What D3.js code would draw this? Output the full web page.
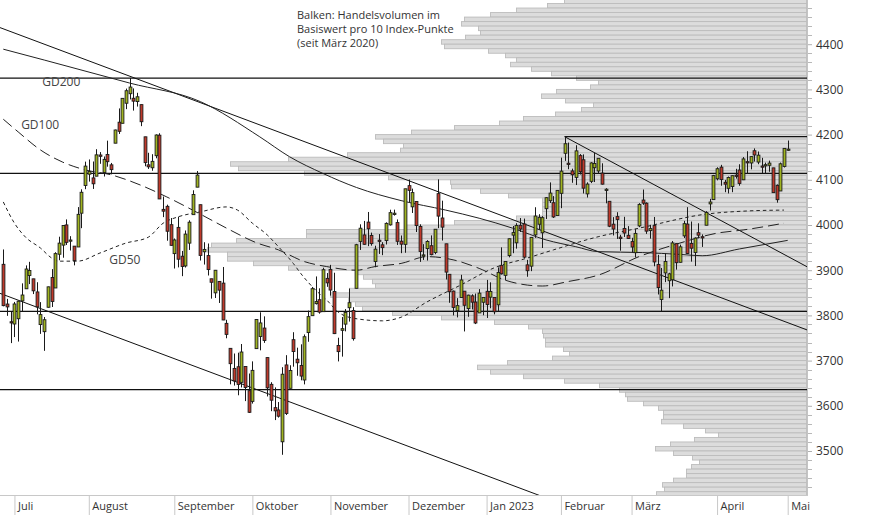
<!DOCTYPE html>
<html><head><meta charset="utf-8">
<script src="https://cdn.jsdelivr.net/npm/d3@7"></script>
<style>
html,body{margin:0;padding:0;background:#fff;}
svg{display:block;font-family:"Open Sans",sans-serif;}
</style></head><body>
<svg id="chart" width="874" height="515"></svg>
<script>
// ---------- DATA ----------
const dates = [
"2022-06-28","2022-06-29","2022-06-30",
"2022-07-01","2022-07-05","2022-07-06","2022-07-07","2022-07-08","2022-07-11","2022-07-12","2022-07-13","2022-07-14","2022-07-15","2022-07-18","2022-07-19","2022-07-20","2022-07-21","2022-07-22","2022-07-25","2022-07-26","2022-07-27","2022-07-28","2022-07-29",
"2022-08-01","2022-08-02","2022-08-03","2022-08-04","2022-08-05","2022-08-08","2022-08-09","2022-08-10","2022-08-11","2022-08-12","2022-08-15","2022-08-16","2022-08-17","2022-08-18","2022-08-19","2022-08-22","2022-08-23","2022-08-24","2022-08-25","2022-08-26","2022-08-29","2022-08-30","2022-08-31",
"2022-09-01","2022-09-02","2022-09-06","2022-09-07","2022-09-08","2022-09-09","2022-09-12","2022-09-13","2022-09-14","2022-09-15","2022-09-16","2022-09-19","2022-09-20","2022-09-21","2022-09-22","2022-09-23","2022-09-26","2022-09-27","2022-09-28","2022-09-29","2022-09-30",
"2022-10-03","2022-10-04","2022-10-05","2022-10-06","2022-10-07","2022-10-10","2022-10-11","2022-10-12","2022-10-13","2022-10-14","2022-10-17","2022-10-18","2022-10-19","2022-10-20","2022-10-21","2022-10-24","2022-10-25","2022-10-26","2022-10-27","2022-10-28","2022-10-31",
"2022-11-01","2022-11-02","2022-11-03","2022-11-04","2022-11-07","2022-11-08","2022-11-09","2022-11-10","2022-11-11","2022-11-14","2022-11-15","2022-11-16","2022-11-17","2022-11-18","2022-11-21","2022-11-22","2022-11-23","2022-11-25","2022-11-28","2022-11-29","2022-11-30",
"2022-12-01","2022-12-02","2022-12-05","2022-12-06","2022-12-07","2022-12-08","2022-12-09","2022-12-12","2022-12-13","2022-12-14","2022-12-15","2022-12-16","2022-12-19","2022-12-20","2022-12-21","2022-12-22","2022-12-23","2022-12-27","2022-12-28","2022-12-29","2022-12-30",
"2023-01-03","2023-01-04","2023-01-05","2023-01-06","2023-01-09","2023-01-10","2023-01-11","2023-01-12","2023-01-13","2023-01-17","2023-01-18","2023-01-19","2023-01-20","2023-01-23","2023-01-24","2023-01-25","2023-01-26","2023-01-27","2023-01-30","2023-01-31",
"2023-02-01","2023-02-02","2023-02-03","2023-02-06","2023-02-07","2023-02-08","2023-02-09","2023-02-10","2023-02-13","2023-02-14","2023-02-15","2023-02-16","2023-02-17","2023-02-21","2023-02-22","2023-02-23","2023-02-24","2023-02-27","2023-02-28",
"2023-03-01","2023-03-02","2023-03-03","2023-03-06","2023-03-07","2023-03-08","2023-03-09","2023-03-10","2023-03-13","2023-03-14","2023-03-15","2023-03-16","2023-03-17","2023-03-20","2023-03-21","2023-03-22","2023-03-23","2023-03-24","2023-03-27","2023-03-28","2023-03-29","2023-03-30","2023-03-31",
"2023-04-03","2023-04-04","2023-04-05","2023-04-06","2023-04-10","2023-04-11","2023-04-12","2023-04-13","2023-04-14","2023-04-17","2023-04-18","2023-04-19","2023-04-20","2023-04-21","2023-04-24","2023-04-25","2023-04-26","2023-04-27","2023-04-28",
"2023-05-01"];

const open = [
3913.0,3825.1,3786.0,
3781.0,3792.6,3832.0,3858.9,3888.3,3880.9,3851.9,3779.7,3764.0,3818.0,3883.8,3860.7,3935.3,3955.5,4000.2,3965.7,3953.2,3951.4,4026.1,4087.3,
4112.4,4104.2,4108.0,4154.9,4115.9,4155.9,4133.1,4181.0,4227.4,4225.0,4269.4,4290.5,4280.4,4273.1,4266.3,4195.1,4133.1,4126.6,4153.3,4198.7,4034.6,4041.3,4000.7,
3936.7,3994.7,3930.9,3909.4,3959.9,4022.9,4083.7,4044.9,3940.7,3932.4,3881.0,3849.9,3875.2,3871.4,3782.4,3727.1,3682.7,3686.4,3651.9,3687.0,3633.5,
3609.8,3726.5,3753.3,3772.0,3706.7,3647.5,3595.9,3590.8,3520.4,3690.4,3638.7,3746.3,3703.1,3689.1,3657.1,3762.0,3799.4,3826.0,3834.7,3808.3,3881.9,
3901.8,3852.9,3733.3,3767.0,3780.7,3817.0,3810.9,3859.9,3963.7,3978.0,4006.4,3976.8,3919.3,3966.4,3956.2,3965.5,4000.3,4023.3,4005.4,3964.2,3957.2,
4087.1,4040.2,4052.0,3996.6,3933.3,3947.8,3954.2,3939.3,4069.4,4015.5,3958.4,3890.9,3853.8,3810.5,3839.5,3853.6,3815.1,3843.3,3829.6,3805.5,3829.1,
3853.3,3840.4,3839.7,3823.4,3910.8,3888.6,3932.4,3977.6,3960.6,3999.3,4002.3,3911.8,3909.0,3978.1,4001.7,3982.7,4036.1,4053.7,4049.3,4020.9,
4070.1,4158.7,4136.7,4119.6,4105.3,4153.5,4144.3,4068.9,4096.6,4126.7,4119.5,4114.8,4077.4,4052.4,4001.8,4018.6,3973.2,3992.4,3977.2,
3963.3,3938.7,3998.0,4055.2,4048.3,3987.6,3998.7,3912.8,3835.1,3894.0,3876.7,3878.9,3958.7,3917.5,3975.9,4002.0,3959.2,3939.2,3982.9,3974.1,3999.5,4046.7,4056.2,
4102.2,4128.0,4094.5,4081.2,4085.2,4110.3,4121.7,4100.0,4140.1,4137.2,4164.3,4139.3,4130.5,4132.1,4132.1,4126.4,4087.8,4075.3,4129.6,
4166.8];

const high = [
3945.9,3836.5,3807.8,
3829.8,3832.2,3870.9,3910.6,3918.5,3880.9,3873.4,3829.4,3796.4,3863.6,3902.4,3939.8,3974.1,3999.3,4012.4,3975.3,3953.2,4039.6,4079.0,4140.2,
4145.0,4140.5,4167.7,4161.3,4151.6,4186.6,4137.3,4211.0,4257.9,4280.5,4301.8,4325.3,4302.2,4292.5,4266.3,4195.1,4159.8,4156.6,4200.5,4203.0,4063.0,4045.0,4015.4,
3970.2,4018.4,3942.6,3987.9,4010.5,4076.8,4119.3,4044.9,3961.9,3959.1,3881.0,3900.5,3876.0,3907.1,3790.3,3727.1,3715.7,3717.5,3736.7,3687.0,3671.4,
3698.3,3791.9,3806.9,3797.9,3706.7,3652.2,3640.7,3608.3,3685.4,3712.0,3689.7,3762.8,3728.6,3736.0,3757.9,3810.7,3862.9,3886.2,3859.9,3905.4,3893.7,
3911.8,3894.4,3750.6,3796.3,3814.0,3859.4,3818.2,3958.3,4001.5,4009.0,4028.8,3983.1,3954.2,3979.9,3962.0,4005.9,4033.8,4034.0,4012.3,3976.8,4080.1,
4100.5,4080.5,4052.5,4001.5,3957.6,3966.4,3977.0,3990.7,4101.0,4053.8,3958.4,3890.9,3854.9,3838.2,3889.8,3853.6,3845.8,3846.7,3848.3,3858.2,3839.9,
3878.5,3873.2,3839.7,3906.2,3950.6,3919.8,3970.1,3997.8,4004.0,4015.4,4014.2,3922.9,3973.0,4039.3,4023.9,4019.6,4061.6,4094.2,4063.9,4077.2,
4149.0,4195.4,4182.4,4124.6,4176.5,4156.9,4156.2,4094.4,4138.9,4159.8,4148.1,4136.5,4081.5,4052.4,4017.4,4028.3,3978.3,4018.1,3997.5,
3971.7,3990.8,4048.3,4078.5,4050.0,4000.4,4017.8,3934.0,3905.0,3937.3,3894.3,3964.5,3958.9,3956.6,4009.1,4039.5,4007.7,3972.7,4003.8,3979.2,4030.6,4057.9,4110.8,
4127.7,4133.1,4099.7,4107.3,4109.5,4124.3,4134.4,4150.3,4163.2,4151.7,4169.5,4162.6,4148.6,4138.0,4142.4,4126.4,4089.7,4138.2,4170.1,
4186.9];

const low = [
3820.1,3799.0,3738.7,
3752.1,3742.1,3809.4,3858.9,3869.3,3847.2,3802.4,3759.1,3721.6,3817.2,3818.6,3860.7,3922.0,3927.6,3955.8,3943.5,3910.7,3951.4,3993.0,4079.2,
4096.0,4079.8,4108.0,4135.4,4107.3,4129.0,4112.1,4181.0,4201.4,4225.0,4256.3,4277.8,4253.1,4262.0,4218.7,4129.9,4124.0,4120.0,4147.6,4057.4,4017.4,3965.2,3954.5,
3903.7,3906.2,3886.8,3906.0,3944.8,4022.9,4083.7,3921.4,3912.5,3888.3,3837.1,3838.5,3827.5,3789.5,3749.4,3647.5,3644.8,3623.3,3640.6,3610.4,3584.1,
3604.9,3726.5,3722.7,3739.2,3620.7,3588.1,3568.4,3573.9,3491.6,3579.7,3638.7,3686.5,3666.5,3656.4,3647.4,3741.7,3799.4,3824.1,3803.8,3808.3,3863.2,
3843.8,3758.7,3698.2,3708.8,3764.7,3786.3,3744.2,3859.9,3944.8,3956.4,3953.2,3954.3,3906.5,3936.0,3933.3,3956.9,3998.7,4020.8,3955.8,3937.7,3938.6,
4050.9,4026.6,3984.5,3918.4,3922.7,3921.3,3933.0,3935.3,3993.0,3965.7,3879.5,3827.9,3800.0,3795.6,3839.5,3764.5,3797.0,3813.2,3780.8,3805.5,3800.3,
3794.3,3815.8,3802.4,3809.6,3890.4,3877.3,3928.5,3937.6,3947.7,3984.6,3926.6,3885.5,3897.9,3971.6,3989.8,3949.1,4013.3,4048.7,4015.6,4020.4,
4037.2,4141.9,4123.4,4093.4,4088.4,4111.7,4069.7,4060.8,4092.7,4095.0,4113.0,4089.4,4048.0,3995.2,3976.9,3969.2,3943.1,3973.6,3969.0,
3939.0,3928.2,3995.2,4044.6,3980.3,3969.8,3908.7,3846.3,3808.9,3873.6,3838.2,3864.1,3901.3,3916.9,3971.2,3936.2,3919.0,3909.2,3970.5,3951.5,3999.5,4032.1,4056.2,
4098.8,4086.9,4072.6,4069.8,4072.6,4102.6,4086.9,4099.4,4113.2,4123.2,4140.4,4134.5,4114.6,4113.9,4117.8,4071.4,4049.4,4075.3,4127.2,
4164.1];

const close = [
3821.6,3818.8,3785.4,
3825.3,3831.4,3845.1,3902.6,3899.4,3854.4,3818.8,3801.8,3790.4,3863.2,3830.9,3936.7,3959.9,3999.0,3961.6,3966.8,3921.1,4023.6,4072.4,4130.3,
4118.6,4091.2,4155.2,4151.9,4145.2,4140.1,4122.5,4210.2,4207.3,4280.2,4297.1,4305.2,4274.0,4283.7,4228.5,4138.0,4128.7,4140.8,4199.1,4057.7,4030.6,3986.2,3955.0,
3966.9,3924.3,3908.2,3979.9,4006.2,4067.4,4110.4,3932.7,3946.0,3901.4,3873.3,3899.9,3855.9,3789.9,3758.0,3693.2,3655.0,3647.3,3719.0,3640.5,3585.6,
3678.4,3790.9,3783.3,3744.5,3639.7,3612.4,3588.8,3577.0,3669.9,3583.1,3678.0,3720.0,3695.2,3665.8,3752.8,3797.3,3859.1,3830.6,3807.3,3901.1,3872.0,
3856.1,3759.7,3719.9,3770.6,3806.8,3828.1,3748.6,3956.4,3992.9,3957.3,3991.7,3958.8,3946.6,3965.3,3949.9,4003.6,4027.3,4026.1,3963.9,3957.6,4080.1,
4076.6,4071.7,3998.8,3941.3,3933.9,3963.5,3934.4,3990.6,4019.7,3995.3,3895.8,3852.4,3817.7,3821.6,3878.4,3822.4,3844.8,3829.3,3783.2,3849.3,3839.5,
3824.1,3853.0,3808.1,3895.1,3892.1,3919.3,3969.6,3983.2,3999.1,3991.0,3928.9,3898.9,3972.6,4019.8,4017.0,4016.2,4060.4,4070.6,4017.8,4076.6,
4119.2,4179.8,4136.5,4111.1,4164.0,4117.9,4081.5,4090.5,4137.3,4136.1,4147.6,4090.4,4079.1,3997.3,3991.1,4012.3,3970.0,3982.2,3970.2,
3951.4,3981.4,4045.6,4048.4,3986.4,3992.0,3918.3,3861.6,3855.8,3919.3,3891.9,3960.3,3916.6,3951.6,4002.9,3937.0,3948.7,3971.0,3977.5,3971.3,4027.8,4050.8,4109.3,
4124.5,4100.6,4090.4,4105.0,4109.1,4108.9,4092.0,4146.2,4137.6,4151.3,4154.9,4154.5,4129.8,4133.5,4137.0,4071.6,4056.0,4135.4,4169.5,
4167.9];

// Volume profile: one bar per 10 index points, from 4490-4500 (top) down to 3400-3410
const volumeBinLow = d3.range(4490, 3399, -10);
const volumeProfile = [
242,259,290,316,342,345,328,326,341,365,
362,318,301,290,296,275,255,230,208,216,
250,265,241,213,225,251,283,307,352,395,
431,423,403,406,459,518,576,568,502,418,
356,355,326,298,264,264,264,264,290,352,
402,500,500,570,595,599,579,579,553,518,
451,443,434,431,457,476,458,451,444,414,
365,312,278,264,263,261,261,243,237,254,
299,329,316,283,242,207,187,181,179,163,
148,143,143,145,123,101,88,112,136,151,
133,114,107,115,120,120,133,144,142,150];

// Moving averages: [date, value]
const gd200 = [["2022-06-28",4389],["2022-07-14",4365],["2022-08-16",4314],["2022-09-13",4273],["2022-10-05",4195],["2022-10-17",4151],["2022-10-28",4114],["2022-11-10",4083],["2022-11-29",4054],["2022-12-15",4033],["2022-12-29",4015],["2023-01-12",3993],["2023-01-26",3967],["2023-02-07",3952],["2023-02-15",3941],["2023-03-06",3939],["2023-03-20",3935],["2023-03-28",3932],["2023-04-12",3947],["2023-05-01",3966]];
const gd100 = [["2022-06-28",4234],["2022-07-05",4206],["2022-07-13",4166],["2022-07-21",4139],["2022-07-29",4122],["2022-08-09",4111],["2022-08-19",4088],["2022-08-30",4062],["2022-09-13",4024],["2022-09-23",3989],["2022-10-04",3961],["2022-10-12",3945],["2022-10-21",3919],["2022-10-31",3908],["2022-11-10",3900],["2022-11-17",3908],["2022-11-29",3915],["2022-12-08",3930],["2022-12-19",3923],["2022-12-29",3904],["2023-01-10",3878],["2023-01-19",3867],["2023-01-25",3865],["2023-02-03",3875],["2023-02-15",3889],["2023-03-03",3930],["2023-03-20",3960],["2023-04-03",3982],["2023-04-13",3989],["2023-04-28",4004]];
const gd50 = [["2022-06-28",4051],["2022-07-01",4004],["2022-07-07",3973],["2022-07-13",3949],["2022-07-18",3927],["2022-07-20",3920],["2022-07-27",3920],["2022-08-04",3938],["2022-08-15",3960],["2022-08-23",3973],["2022-08-29",4004],["2022-09-02",4018],["2022-09-13",4029],["2022-09-22",4040],["2022-09-27",4033],["2022-10-03",4004],["2022-10-07",3978],["2022-10-12",3952],["2022-10-18",3915],["2022-10-20",3893],["2022-10-26",3856],["2022-10-31",3834],["2022-11-03",3808],["2022-11-09",3794],["2022-11-21",3788],["2022-11-29",3796],["2022-12-08",3830],["2022-12-21",3867],["2023-01-05",3905],["2023-01-19",3927],["2023-01-30",3945],["2023-02-15",3974],["2023-03-03",3993],["2023-03-29",4024],["2023-04-14",4031],["2023-04-28",4033]];

// Horizontal support / resistance levels (full width)
const levels = [4325, 4114, 3809, 3636];
// Level starting at the February high
const febHigh = ["2023-02-02", 4195.4];
// Trend lines: two anchor points each [date, price]
const trendUpper = [["2022-06-28",4434],["2023-04-28",3787]];
const trendLower = [["2022-06-28",3846],["2023-04-28",3199]];
const trendFeb = [["2023-02-02",4195.4],["2023-04-28",3935]];

const monthLabels = ["Juli","August","September","Oktober","November","Dezember","Jan 2023","Februar","März","April","Mai"];
const priceTicks = [3500,3600,3700,3800,3900,4000,4100,4200,4300,4400];
const noteLines = ["Balken: Handelsvolumen im","Basiswert pro 10 Index-Punkte","(seit März 2020)"];
const maLabels = [["GD200",10.5,4308],["GD100",4.8,4212],["GD50",28.5,3913]];

// ---------- CHART ----------
const svg = d3.select("#chart");
const PR = 807, PB = 495;
const idx = new Map(dates.map((d,i)=>[d,i]));
const x = d3.scaleLinear().domain([0, dates.length-1]).range([3.3, 787.7]);
const y = d3.scaleLinear().domain([3400, 4500]).range([496.2, -1]);
const xVol = d3.scaleLinear().domain([0, 600]).range([806.5, 206.5]);

svg.append("rect").attr("width",874).attr("height",515).attr("fill","#fff");
svg.append("defs").append("clipPath").attr("id","plotclip")
  .append("rect").attr("x",0).attr("y",0).attr("width",PR).attr("height",PB);
const plot = svg.append("g").attr("clip-path","url(#plotclip)");

// volume profile bars
plot.append("g").selectAll("rect").data(volumeProfile).join("rect")
  .attr("x", d => xVol(d))
  .attr("y", (d,j) => y(volumeBinLow[j]+10))
  .attr("width", d => xVol(0) - xVol(d))
  .attr("height", (d,j) => y(volumeBinLow[j]) - y(volumeBinLow[j]+10))
  .attr("fill","#dcdcdc").attr("stroke","#bcbcbc").attr("stroke-width",0.9);

// horizontal levels
plot.append("g").selectAll("line").data(levels).join("line")
  .attr("x1",0).attr("x2",PR).attr("y1",d=>y(d)).attr("y2",d=>y(d))
  .attr("stroke","#111").attr("stroke-width",1.3);
plot.append("line")
  .attr("x1", x(idx.get(febHigh[0]))).attr("x2", PR)
  .attr("y1", y(febHigh[1])).attr("y2", y(febHigh[1]))
  .attr("stroke","#111").attr("stroke-width",1.3);

// trend lines (extended along their slope)
function drawTrend(t, extendLeft){
  const i0 = idx.get(t[0][0]), i1 = idx.get(t[1][0]);
  const s = (t[1][1]-t[0][1])/(i1-i0);
  const a = extendLeft ? -2 : i0, b = 218;
  plot.append("line")
    .attr("x1", x(a)).attr("y1", y(t[0][1] + s*(a-i0)))
    .attr("x2", x(b)).attr("y2", y(t[0][1] + s*(b-i0)))
    .attr("stroke","#111").attr("stroke-width",1);
}
drawTrend(trendUpper, true);
drawTrend(trendLower, true);
drawTrend(trendFeb, false);

// moving averages
const maLine = d3.line().x(d=>x(idx.get(d[0]))).y(d=>y(d[1])).curve(d3.curveMonotoneX);
plot.append("path").attr("d", maLine(gd200)).attr("fill","none").attr("stroke","#222").attr("stroke-width",1);
plot.append("path").attr("d", maLine(gd100)).attr("fill","none").attr("stroke","#222").attr("stroke-width",1).attr("stroke-dasharray","11,5");
plot.append("path").attr("d", maLine(gd50)).attr("fill","none").attr("stroke","#222").attr("stroke-width",1).attr("stroke-dasharray","3.5,3");

// candles
const cg = plot.append("g").selectAll("g").data(dates).join("g");
cg.append("line")
  .attr("x1",(d,i)=>Math.round(x(i))+0.5).attr("x2",(d,i)=>Math.round(x(i))+0.5)
  .attr("y1",(d,i)=>y(high[i])).attr("y2",(d,i)=>y(low[i]))
  .attr("stroke","#1a1a1a").attr("stroke-width",1);
cg.append("rect")
  .attr("x",(d,i)=>Math.round(x(i))-0.9)
  .attr("width",2.8)
  .attr("y",(d,i)=>y(Math.max(open[i],close[i])))
  .attr("height",(d,i)=>Math.max(1.2, Math.abs(y(open[i])-y(close[i]))))
  .attr("fill",(d,i)=> close[i] >= open[i] ? "#a0b420" : "#c0392b")
  .attr("stroke","#1a1a1a").attr("stroke-width",0.9);

// MA labels
svg.append("g").selectAll("text").data(maLabels).join("text")
  .attr("x", d=>x(d[1])).attr("y", d=>y(d[2]))
  .attr("font-size",12).attr("fill","#444").text(d=>d[0]);

// note (one text element per line)
svg.append("g").selectAll("text").data(noteLines).join("text")
  .attr("x",297).attr("y",(d,i)=>18.5 + i*14)
  .attr("font-size",11).attr("fill","#333").text(d=>d);

// right price axis
const yAxis = svg.append("g").attr("transform",`translate(${PR},0)`)
  .call(d3.axisRight(y).tickValues(priceTicks).tickSize(5).tickPadding(4).tickFormat(d3.format("d")));
yAxis.select(".domain").remove();
yAxis.selectAll(".tick line").attr("stroke","#b0b0b0");
yAxis.selectAll(".tick text").attr("font-size",12).attr("fill","#333").attr("font-family","Open Sans, sans-serif");
const minor = d3.range(3420, 4500, 20).filter(v => v % 100 !== 0);
svg.append("g").selectAll("line").data(minor).join("line")
  .attr("x1",PR).attr("x2",PR+5).attr("y1",d=>Math.round(y(d))+0.5).attr("y2",d=>Math.round(y(d))+0.5)
  .attr("stroke","#b8b8b8");
svg.append("line").attr("x1",PR+0.5).attr("x2",PR+0.5).attr("y1",0).attr("y2",PB)
  .attr("stroke","#c4c4c4");

// bottom month axis
const monthStarts = dates.map((d,i)=>i).filter(i => i>0 && dates[i].slice(0,7) !== dates[i-1].slice(0,7));
const xAxis = svg.append("g").attr("transform",`translate(0,${PB})`)
  .call(d3.axisBottom(x).tickValues(monthStarts).tickSize(20).tickFormat((d,k)=>monthLabels[k]));
xAxis.select(".domain").remove();
xAxis.selectAll(".tick line").attr("stroke","#c8c8c8");
xAxis.selectAll(".tick text").attr("text-anchor","start").attr("x",3).attr("y",7)
  .attr("font-size",11).attr("fill","#333").attr("font-family","Open Sans, sans-serif");
svg.append("line").attr("x1",0).attr("x2",PR+1).attr("y1",PB+0.5).attr("y2",PB+0.5).attr("stroke","#c8c8c8");
</script>
</body></html>
